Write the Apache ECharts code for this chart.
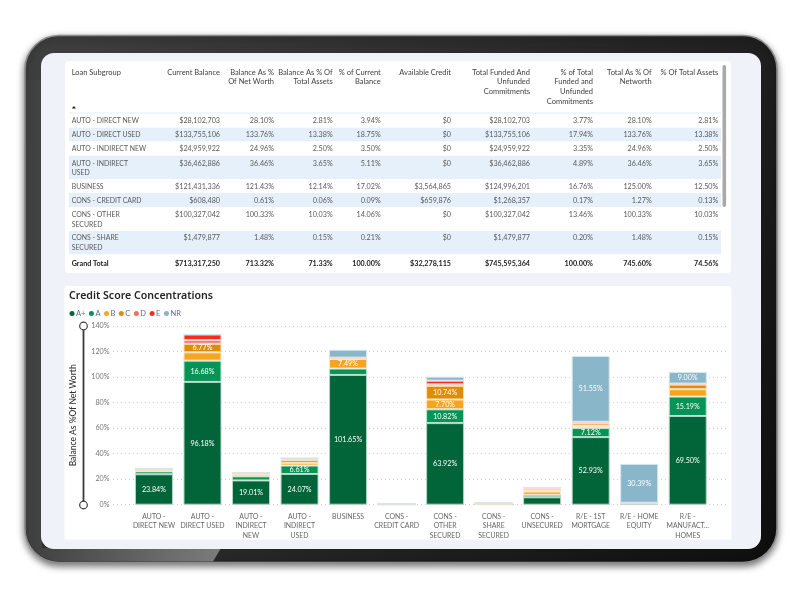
<![CDATA[<!DOCTYPE html>
<html><head><meta charset="utf-8">
<style>html,body{margin:0;padding:0;background:#fff}#c{width:800px;height:600px}</style>
<script src="https://cdn.jsdelivr.net/npm/echarts@6/dist/echarts.min.js"></script></head>
<body><div id="c"></div>
<script>
const categories=['AUTO -\nDIRECT NEW','AUTO -\nDIRECT USED','AUTO -\nINDIRECT\nNEW','AUTO -\nINDIRECT\nUSED','BUSINESS','CONS -\nCREDIT CARD','CONS -\nOTHER\nSECURED','CONS -\nSHARE\nSECURED','CONS -\nUNSECURED','R/E - 1ST\nMORTGAGE','R/E - HOME\nEQUITY','R/E -\nMANUFACT...\nHOMES'];
const aPlus=[23.84,96.18,19.01,24.07,101.65,0.1,63.92,0.2,5.8,52.93,0.4,69.50];
const aGrade=[2.26,16.68,3.2,6.61,5.0,0.1,10.82,0.2,1.9,7.12,0.3,15.19];
const bGrade=[0.9,6.5,1.5,2.2,7.49,0.1,7.70,0.3,2.6,1.6,0.5,5.8];
const cGrade=[0.5,6.77,0.8,2.2,0.8,0.1,10.74,0.3,1.2,1.9,0.3,3.6];
const dGrade=[0.4,2.8,0.3,0.9,0.3,0.1,1.1,0.3,1.2,0.9,0.1,0.5];
const eGrade=[0.2,4.4,0.15,0.46,0.0,0.11,2.9,0.18,0.8,0.5,0,0.3];
const nrGrade=[0,0,0,0,6.19,0,3.1,0,0,51.55,30.39,9.00];
const tickLabels=[0,20,40,60,80,100,120,140];

const tableHeaders=['Loan Subgroup','Current Balance','Balance As %\nOf Net Worth','Balance As % Of\nTotal Assets','% of Current\nBalance','Available Credit','Total Funded And\nUnfunded\nCommitments','% of Total\nFunded and\nUnfunded\nCommitments','Total As % Of\nNetworth','% Of Total Assets'];
const subgroups=['AUTO - DIRECT NEW','AUTO - DIRECT USED','AUTO - INDIRECT NEW','AUTO - INDIRECT\nUSED','BUSINESS','CONS - CREDIT CARD','CONS - OTHER\nSECURED','CONS - SHARE\nSECURED','Grand Total'];
const currentBalance=['$28,102,703','$133,755,106','$24,959,922','$36,462,886','$121,431,336','$608,480','$100,327,042','$1,479,877','$713,317,250'];
const balNetWorth=['28.10%','133.76%','24.96%','36.46%','121.43%','0.61%','100.33%','1.48%','713.32%'];
const balAssets=['2.81%','13.38%','2.50%','3.65%','12.14%','0.06%','10.03%','0.15%','71.33%'];
const pctCurrent=['3.94%','18.75%','3.50%','5.11%','17.02%','0.09%','14.06%','0.21%','100.00%'];
const availCredit=['$0','$0','$0','$0','$3,564,865','$659,876','$0','$0','$32,278,115'];
const totalFunded=['$28,102,703','$133,755,106','$24,959,922','$36,462,886','$124,996,201','$1,268,357','$100,327,042','$1,479,877','$745,595,364'];
const pctFunded=['3.77%','17.94%','3.35%','4.89%','16.76%','0.17%','13.46%','0.20%','100.00%'];
const totalNetworth=['28.10%','133.76%','24.96%','36.46%','125.00%','1.27%','100.33%','1.48%','745.60%'];
const totalAssetsPct=['2.81%','13.38%','2.50%','3.65%','12.50%','0.13%','10.03%','0.15%','74.56%'];

const FONT='Lato';
const TITLEFONT='"Noto Sans"';
const columns=[subgroups,currentBalance,balNetWorth,balAssets,pctCurrent,availCredit,totalFunded,pctFunded,totalNetworth,totalAssetsPct];
const colX=[71.7,220,274,332.7,380.7,451,530,593,651.7,718.3];
const rowY=[120.7,134.7,148.7,163.3,186.7,200.7,214.7,238,263.3];
const bands=[[127.7,141.2],[155.7,179],[193,207],[231,254.3]];
const LH=9.6;
const els=[];
// device frame
els.push({type:'rect',z:-20,shape:{x:25,y:35.5,width:752,height:527,r:34},style:{fill:{type:'linear',x:0,y:0,x2:1,y2:1,colorStops:[{offset:0,color:'#404040'},{offset:.45,color:'#2a2a2a'},{offset:1,color:'#0e0e0e'}]},stroke:'#8c8c8c',lineWidth:1.6,shadowBlur:7,shadowColor:'rgba(0,0,0,.55)',shadowOffsetY:3}});
const stripe=[[221,548],[213,561.5],[60,561.5]];
for(let i=1;i<12;i++){const a=Math.PI/2*i/12;stripe.push([60-34*Math.sin(a),527.5+34*Math.cos(a)]);}
stripe.push([26,527.5],[26,80],[42,80],[42,548]);
els.push({type:'polygon',z:-19,shape:{points:stripe},style:{fill:{type:'linear',x:0,y:0,x2:1,y2:0,colorStops:[{offset:0,color:'#3e3e3e'},{offset:1,color:'#7c7c7c'}]}}});
els.push({type:'rect',z:-18,shape:{x:41,y:53,width:720,height:496,r:13},style:{fill:'#eff3f9'}});
els.push({type:'rect',z:-17,shape:{x:65,y:61,width:666,height:212,r:4},style:{fill:'#fff'}});
els.push({type:'rect',z:-17,shape:{x:64.5,y:286,width:667,height:253.5,r:[4,4,0,0]},style:{fill:'#fff'}});
// table
els.push({type:'rect',z:-16,shape:{x:69,y:112.5,width:652,height:1},style:{fill:'#e3edf8'}});
bands.forEach(b=>els.push({type:'rect',z:-16,shape:{x:69,y:b[0],width:652,height:b[1]-b[0]},style:{fill:'#e6f0fa'}}));
els.push({type:'rect',z:-15,shape:{x:722.5,y:65,width:3.6,height:142,r:1.8},style:{fill:'#a9a9a9'}});
els.push({type:'polygon',z:-15,shape:{points:[[71.8,108.6],[76,108.6],[73.9,106]]},style:{fill:'#222'}});
tableHeaders.forEach((h,c)=>els.push({type:'text',z:5,style:{text:h,x:colX[c],y:72.3-LH/2,align:c?'right':'left',verticalAlign:'top',lineHeight:LH,font:'7.5px '+FONT,fill:'#3f3f3f'}}));
columns.forEach((col,c)=>col.forEach((t,r)=>els.push({type:'text',z:5,style:{text:t,x:colX[c],y:rowY[r]-LH/2,align:c?'right':'left',verticalAlign:'top',lineHeight:LH,font:(r===8?'700 ':'')+(c===0&&r<8?'6.9px ':'7.2px ')+FONT,fill:r===8?'#222':'#5a5a5a'}})));
// slider on value axis
els.push({type:'line',z:6,shape:{x1:83.5,y1:330,x2:83.5,y2:501},style:{stroke:'#3a3a3a',lineWidth:1.8}});
[326,505].forEach(y=>els.push({type:'circle',z:6,shape:{cx:83.5,cy:y,r:3.8},style:{fill:'#fff',stroke:'#3a3a3a',lineWidth:1.2}}));

const grades=[['A+',aPlus,'#02653a','#b4d4c4'],['A',aGrade,'#069456','#bde3d0'],['B',bGrade,'#f7a520','#fde8c6'],['C',cGrade,'#de8d08','#f8e2c0'],['D',dGrade,'#fb6a60','#fed8d4'],['E',eGrade,'#fc2a1d','#fed2ce'],['NR',nrGrade,'#8ab6c9','#d6e7ee']];
const series=grades.map(g=>({name:g[0],type:'bar',stack:'s',xAxisIndex:1,yAxisIndex:1,barWidth:38,data:g[1],
  itemStyle:{color:g[2],borderColor:g[3],borderWidth:1},
  label:{show:true,position:'inside',color:'#fff',fontSize:7.2,fontFamily:FONT,formatter:p=>p.value>=6.6?p.value.toFixed(2)+'%':''}}));

const chart=echarts.init(document.getElementById('c'),null,{renderer:'canvas'});
chart.setOption({animation:false,backgroundColor:'#fff',textStyle:{fontFamily:FONT},
 title:{text:'Credit Score Concentrations',left:69,top:290,padding:0,textStyle:{fontSize:10.6,fontWeight:600,color:'#252525',fontFamily:TITLEFONT}},
 legend:{left:69.5,top:309.5,padding:0,itemWidth:5,itemHeight:5,itemGap:3.5,icon:'circle',itemStyle:{borderWidth:0},textStyle:{fontSize:7.5,color:'#5c6c90',fontFamily:FONT,padding:[0,0,0,-3.5]},data:grades.map(g=>g[0])},
 grid:[{left:113,right:73,top:326,height:178.7},{left:129.7,right:88,top:326,height:178.7}],
 xAxis:[{type:'category',gridIndex:0,data:categories,show:false},
        {type:'category',gridIndex:1,data:categories,axisLine:{show:false},axisTick:{show:false},
         axisLabel:{interval:0,margin:7,fontSize:6.9,lineHeight:9.6,color:'#666',fontFamily:FONT,hideOverlap:false}}],
 yAxis:[{type:'value',gridIndex:0,min:tickLabels[0],max:tickLabels[tickLabels.length-1],interval:20,
         name:'Balance As %Of Net Worth',nameLocation:'middle',nameGap:35,nameTextStyle:{fontSize:8.5,color:'#333',fontWeight:500,fontFamily:FONT},
         axisLine:{show:false},axisTick:{show:false},axisLabel:{margin:3.5,fontSize:7.2,color:'#777',fontFamily:FONT,formatter:'{value}%'},
         splitLine:{lineStyle:{type:[1,3],color:'#cfcfcf',width:1}}},
        {type:'value',gridIndex:1,min:0,max:140,interval:20,show:false,splitLine:{show:false}}],
 series,
 graphic:{elements:els}
});
</script></body></html>]]>
